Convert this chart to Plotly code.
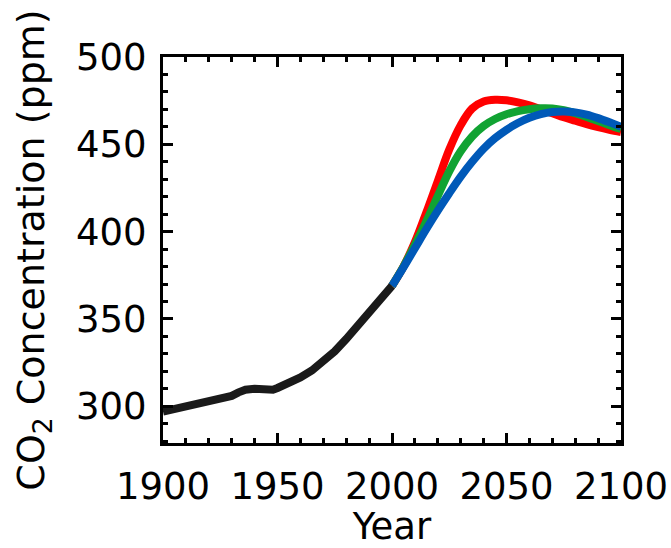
import plotly.graph_objects as go

# Historical CO2 (ppm)
hist_years = [1900, 1905, 1910, 1915, 1920, 1925, 1930, 1933, 1936, 1940, 1945, 1948,
              1950, 1955, 1960, 1965, 1970, 1975, 1980, 1985, 1990, 1995, 2000]
hist_co2 = [297, 298.5, 300, 301.5, 303, 304.2, 306, 308, 309.5, 310, 309.5, 309.5,
            310.5, 313, 316.5, 320.5, 325.5, 331.5, 338.5, 346, 354, 360.5, 369]

# Scenario projections (ppm)
proj_years = [2000, 2005, 2010, 2015, 2020, 2025, 2030, 2035, 2040, 2045, 2050,
              2055, 2060, 2065, 2070, 2075, 2080, 2085, 2090, 2095, 2100]
red_co2 = [369, 380, 394, 411, 429, 447, 461, 470.5, 474.5, 475.5, 475.2,
           474, 472.3, 470, 467.8, 465.5, 463.5, 461.5, 459.8, 458.3, 457]
green_co2 = [369, 380, 392.5, 406, 420.5, 434.5, 446, 454.5, 460.5, 464.5, 467.2,
             469, 470.1, 470.6, 470.5, 469.5, 467.8, 465.7, 463.4, 461, 458.8]
blue_co2 = [369, 379.5, 390.5, 401.5, 412, 422, 431.5, 440, 447.5, 453.5, 458.3,
            462.2, 465.2, 467.3, 468.5, 468.8, 468.3, 467, 465, 462.6, 460]

x_ticks = [1900, 1950, 2000, 2050, 2100]
y_ticks = [300, 350, 400, 450, 500]

FONT = "DejaVu Sans"

fig = go.Figure()
fig.add_trace(go.Scatter(x=proj_years, y=red_co2, mode="lines",
                         line=dict(color="#FF0000", width=8, shape="spline"), showlegend=False))
fig.add_trace(go.Scatter(x=proj_years, y=green_co2, mode="lines",
                         line=dict(color="#11A333", width=8, shape="spline"), showlegend=False))
fig.add_trace(go.Scatter(x=proj_years, y=blue_co2, mode="lines",
                         line=dict(color="#0059B8", width=8, shape="spline"), showlegend=False))
fig.add_trace(go.Scatter(x=hist_years, y=hist_co2, mode="lines",
                         line=dict(color="#1a1a1a", width=8), showlegend=False))

axis_common = dict(
    showgrid=False, zeroline=False, showline=True, linecolor="black", linewidth=3,
    mirror="allticks", ticks="inside", ticklen=10, tickwidth=3, tickcolor="black",
    tickfont=dict(family=FONT, size=37, color="black"),
)

fig.update_xaxes(
    range=[1900, 2100], tickvals=x_ticks, ticktext=[str(v) for v in x_ticks],
    minor=dict(dtick=10, tick0=1900, ticks="inside", ticklen=5, tickwidth=3, tickcolor="black"),
    title=dict(text="Year", font=dict(family=FONT, size=37, color="black"), standoff=10),
    ticklabelstandoff=9,
    **axis_common,
)
fig.update_yaxes(
    range=[279, 500], tickvals=y_ticks, ticktext=[str(v) for v in y_ticks],
    minor=dict(dtick=10, tick0=300, ticks="inside", ticklen=5, tickwidth=3, tickcolor="black"),
    title=dict(text="CO<sub>2</sub> Concentration (ppm)", font=dict(family=FONT, size=38, color="black"), standoff=20),
    ticklabelstandoff=6,
    **axis_common,
)

fig.update_layout(
    width=671, height=548,
    margin=dict(l=163, r=50, t=57, b=105, autoexpand=False),
    plot_bgcolor="white", paper_bgcolor="white",
    font=dict(family=FONT, color="black"),
)

fig.write_html("out.html", config={"displayModeBar": False},
               post_script="document.body.style.margin='0';document.body.style.overflow='hidden';")
